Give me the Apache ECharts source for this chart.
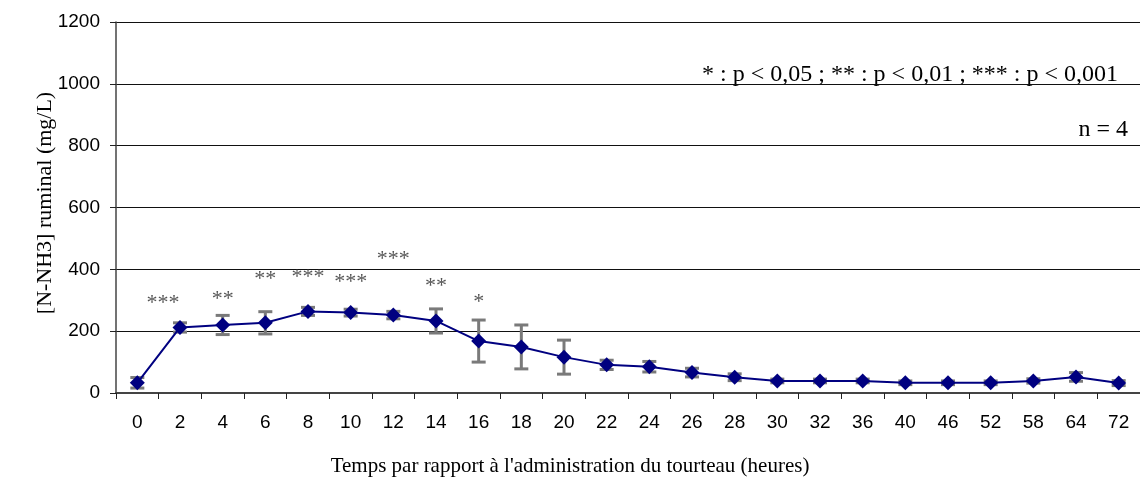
<!DOCTYPE html>
<html>
<head>
<meta charset="utf-8">
<script src="https://cdn.jsdelivr.net/npm/echarts@6/dist/echarts.min.js"></script>
<style>
  html, body { margin: 0; padding: 0; background: #fff; }
  #chart { width: 1140px; height: 480px; }
</style>
</head>
<body>
<div id="chart"></div>
<script>
// Sampling times (hours after the cake was given)
const hours = ['0','2','4','6','8','10','12','14','16','18','20','22','24','26','28','30','32','36','40','46','52','58','64','72'];
// Mean ruminal N-NH3 (mg/L) and its error (mg/L)
const meanNH3 = [33,212,220,227,264,260,252,233,168,149,116,91,85,66,51,39,39,39,33,33,33,39,52,32];
const errNH3  = [17,15,31,36,13,11,12,39,68,71,55,15,17,14,11,6,6,6,6,6,6,7,14,8];
// Significance marks: time, stars, height (mg/L) at which they are written
const starHours  = ['2','4','6','8','10','12','14','16'];
const starText   = ['***','**','**','***','***','***','**','*'];
const starLevels = [291,304,368,374,357,434,346,293];
// Value axis ticks
const yTicks = [0,200,400,600,800,1000,1200];

const SERIF = '"Liberation Serif", "Times New Roman", serif';
const SANS = '"Liberation Sans", Arial, sans-serif';

const chart = echarts.init(document.getElementById('chart'), null, { renderer: 'canvas' });

const errData = hours.map((h, i) => [i, meanNH3[i], errNH3[i]]);
// the first group of stars sits a little left of its point
const starData = starHours.map((h, i) => ({
  value: [hours.indexOf(h), starLevels[i]],
  label: i === 0 ? { offset: [-17, 0] } : undefined
}));

chart.setOption({
  animation: false,
  backgroundColor: '#fff',
  grid: { left: 116, right: 0, top: 22, bottom: 87, containLabel: false },
  xAxis: {
    type: 'category',
    data: hours,
    boundaryGap: true,
    axisLine: { lineStyle: { color: '#444', width: 2 } },
    axisTick: { show: true, alignWithLabel: false, length: 6, lineStyle: { color: '#222', width: 1 } },
    axisLabel: { color: '#000', fontFamily: SANS, fontSize: 19, margin: 20, interval: 0 },
    splitLine: { show: false }
  },
  yAxis: {
    type: 'value',
    min: yTicks[0],
    max: yTicks[yTicks.length - 1],
    interval: yTicks[1] - yTicks[0],
    axisLine: { show: true, lineStyle: { color: '#444', width: 1.5 } },
    axisTick: { show: true, length: 6, lineStyle: { color: '#222', width: 1 } },
    axisLabel: { color: '#000', fontFamily: SANS, fontSize: 19, margin: 16, formatter: v => String(v) },
    splitLine: { show: true, lineStyle: { color: '#111', width: 1 } }
  },
  graphic: [
    {
      type: 'text', left: 'center', top: 456,
      style: { text: "Temps par rapport à l'administration du tourteau (heures)", font: '21px ' + SERIF, fill: '#000' }
    },
    {
      type: 'text', x: 45, y: 203, rotation: Math.PI / 2, originX: 0, originY: 0,
      style: { text: '[N-NH3] ruminal (mg/L)', font: '22px ' + SERIF, fill: '#000', align: 'center', verticalAlign: 'middle' }
    },
    {
      type: 'text', x: 1118, y: 75,
      style: { text: '* : p < 0,05 ; ** : p < 0,01 ; *** : p < 0,001', font: '24px ' + SERIF, fill: '#000', align: 'right', verticalAlign: 'middle' }
    },
    {
      type: 'text', x: 1128, y: 130,
      style: { text: 'n = 4', font: '24px ' + SERIF, fill: '#000', align: 'right', verticalAlign: 'middle' }
    }
  ],
  series: [
    {
      name: 'erreur',
      type: 'custom',
      data: errData,
      z: 2,
      silent: true,
      renderItem: function (params, api) {
        const i = api.value(0);
        const m = api.value(1);
        const e = api.value(2);
        const hi = api.coord([i, m + e]);
        const lo = api.coord([i, m - e]);
        const hw = 7;
        const st = { stroke: '#7a7a7a', lineWidth: 3, fill: null };
        return {
          type: 'group',
          children: [
            { type: 'line', shape: { x1: hi[0], y1: hi[1], x2: lo[0], y2: lo[1] }, style: st },
            { type: 'line', shape: { x1: hi[0] - hw, y1: hi[1], x2: hi[0] + hw, y2: hi[1] }, style: st },
            { type: 'line', shape: { x1: lo[0] - hw, y1: lo[1], x2: lo[0] + hw, y2: lo[1] }, style: st }
          ]
        };
      }
    },
    {
      name: 'N-NH3',
      type: 'line',
      data: meanNH3,
      z: 3,
      symbol: 'diamond',
      symbolSize: 15,
      showAllSymbol: true,
      lineStyle: { color: '#000080', width: 2 },
      itemStyle: { color: '#000080', borderWidth: 0 }
    },
    {
      name: 'significance',
      type: 'scatter',
      data: starData,
      z: 4,
      silent: true,
      symbolSize: 0,
      label: {
        show: true,
        position: 'inside',
        formatter: p => starText[p.dataIndex],
        fontFamily: SERIF,
        fontSize: 22,
        color: '#2a2a2a'
      }
    }
  ]
});
</script>
</body>
</html>
